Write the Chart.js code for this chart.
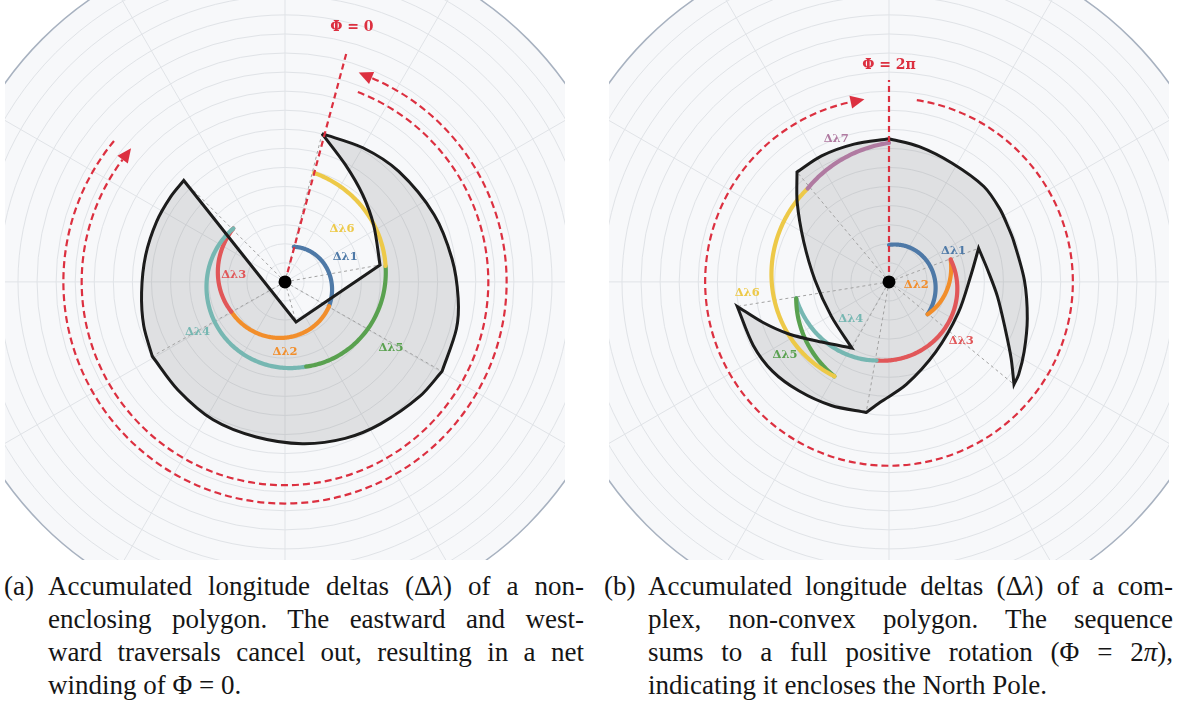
<!DOCTYPE html>
<html>
<head>
<meta charset="utf-8">
<script src="https://cdn.jsdelivr.net/npm/chart.js@4.4.1/dist/chart.umd.min.js"></script>
<style>
  html, body { margin: 0; padding: 0; background: #fff; }
  body { width: 1179px; height: 704px; position: relative; overflow: hidden; }
  .panel { position: absolute; top: 0; width: 560px; height: 560px; }
  #pa { left: 5px; }
  #pb { left: 609px; }
  .cap { position: absolute; top: 570px; font-family: "Liberation Serif", serif; font-size: 27px; line-height: 33px; color: #151515; }
  .cap .lbl { position: absolute; left: 0; top: 0; }
  .cap .body { position: absolute; top: 0; }
  .ln { text-align: justify; text-align-last: justify; height: 33px; overflow: visible; }
  .ln.last { text-align-last: left; }
</style>
</head>
<body>
<canvas id="pa" class="panel" width="560" height="560"></canvas>
<canvas id="pb" class="panel" width="560" height="560"></canvas>

<div class="cap" style="left:4px;width:580px">
  <div class="lbl">(a)</div>
  <div class="body" style="left:44px;width:536px">
    <div class="ln">Accumulated longitude deltas (Δ<i>λ</i>) of a non-</div>
    <div class="ln">enclosing polygon. The eastward and west-</div>
    <div class="ln">ward traversals cancel out, resulting in a net</div>
    <div class="ln last">winding of Φ = 0.</div>
  </div>
</div>
<div class="cap" style="left:604px;width:570px">
  <div class="lbl">(b)</div>
  <div class="body" style="left:44px;width:525px">
    <div class="ln">Accumulated longitude deltas (Δ<i>λ</i>) of a com-</div>
    <div class="ln">plex, non-convex polygon. The sequence</div>
    <div class="ln">sums to a full positive rotation (Φ = 2<i>π</i>),</div>
    <div class="ln last">indicating it encloses the North Pole.</div>
  </div>
</div>

<script>
// polar grid: colatitude rings every 5 deg up to 90, spokes every 30 deg
const ringStep = 5;
const ringMax = 90;
const spokeStep = 30;

// panel (a): non-enclosing polygon (lon = bearing from north, colat in degrees)
// vertices are listed twice so the smoothed outline keeps its corners
const aOutlineLon   = [14.0, 30.1, 45.8, 65.7, 82.1, 95.4, 105.4, 119.7, 119.7, 130.3, 146.1, 159.0, 173.9, 190.5, 207.5, 224.7, 240.7, 240.7, 252.6, 265.8, 280.8, 295.2, 306.8, 315.1, 315.1, 164.6, 164.6, 79.9, 79.9, 57.4, 41.8, 27.2, 14.0];
const aOutlineColat = [40.1, 40.7, 41.6, 42.9, 44.2, 45.6, 46.6, 47.4, 47.4, 46.4, 44.9, 44.0, 42.7, 41.4, 40.8, 39.9, 39.9, 39.9, 38.8, 37.7, 37.2, 37.2, 37.4, 37.6, 37.6, 10.9, 10.9, 25.3, 25.3, 27.6, 30.6, 34.6, 40.1];
const aVertexLon   = [14, 119.7, 240.7, 315.1, 164.6, 79.9];
const aVertexColat = [40.1, 47.4, 39.9, 37.6, 10.9, 25.3];
const aArcStart = 14;
const aDeltas = [105, 122, 75, -150, -85, -66];
const aArcRadii = [9.5, 13.2, 16.1, 19.5, 22.9, 26.7, 29.6];
const aLabels = ['Δλ1', 'Δλ2', 'Δλ3', 'Δλ4', 'Δλ5', 'Δλ6'];
const aLabelLon   = [67.3, 180, 278.1, 240.3, 121.9, 46.9];
const aLabelColat = [17.1, 18.3, 13.6, 26.4, 32.7, 20.5];
const aLoopRadius = [58.1, 53.3];
const aLoopFrom   = [309.5, 21];
const aLoopDelta  = [-286.5, 286];
const aPhi = { lon: 15, len: 63, labelLon: 14.7, labelColat: 69.1, text: 'Φ = 0' };

// panel (b): complex polygon around the pole
const bOutlineLon   = [0, 12.6, 27.8, 44.8, 56.7, 65.6, 71.9, 89.3, 104.8, 117.4, 125.6, 129.4, 129.4, 122.1, 112.1, 97.7, 83.4, 69.4, 69.4, 84.3, 114, 146.3, 170.4, 184.2, 189.9, 189.9, 205, 219.6, 232.4, 244.9, 260.8, 260.8, 252.1, 242.5, 228.2, 209.3, 209.3, 239.3, 271.3, 295.5, 311, 320.1, 320.1, 331.9, 345.8, 360];
const bOutlineColat = [37.6, 36.4, 35.3, 35.3, 34.8, 34.4, 34.4, 35.5, 37.5, 39.9, 41.8, 42.4, 42.4, 37.8, 32.9, 28.7, 26.1, 25.1, 25.1, 21.7, 19.9, 22.1, 27.3, 31.7, 34.8, 34.8, 35.8, 37.1, 38.5, 39.3, 40.3, 40.3, 34.7, 29.6, 23.7, 19.9, 19.9, 17.6, 19.4, 24.8, 31.9, 37.6, 37.6, 37.5, 37.3, 37.6];
const bVertexLon   = [129.4, 69.4, 189.9, 260.8, 209.3, 320.1];
const bVertexColat = [42.4, 25.1, 34.8, 40.3, 19.9, 37.6];
const bArcStart = 0;
const bDeltas = [130, -60, 119, 71, -50, 109, 41];
const bArcRadii = [9.7, 13.2, 17.2, 20.9, 24.7, 28.6, 32.5, 36.5];
const bLabels = ['Δλ1', 'Δλ2', 'Δλ3', 'Δλ4', 'Δλ5', 'Δλ6', 'Δλ7'];
const bLabelLon   = [64.3, 96.8, 129.4, 226, 235, 265.4, 339.8];
const bLabelColat = [18.8, 7.2, 24.5, 13.9, 33.3, 37.3, 40.1];
const bLoopRadius = [48.2];
const bLoopFrom   = [8.7];
const bLoopDelta  = [339.3];
const bPhi = { lon: 0, len: 53, labelLon: 0, labelColat: 56.8, text: 'Φ = 2π' };

const arcColors = ['#4e79a7', '#f28e2b', '#e15759', '#76b7b2', '#59a14f', '#edc948', '#b07aa1'];
const RED = '#dc3040';
const deg = Math.PI / 180;

function toXY(lon, colat) {
  return { x: colat * Math.sin(lon * deg), y: colat * Math.cos(lon * deg) };
}

function polarPlugin(p) {
  function px(chart, lon, colat) {
    const pt = toXY(lon, colat);
    return [chart.scales.x.getPixelForValue(pt.x), chart.scales.y.getPixelForValue(pt.y)];
  }
  function frame(chart) {
    const cx = chart.scales.x.getPixelForValue(0);
    const cy = chart.scales.y.getPixelForValue(0);
    const k = chart.scales.x.getPixelForValue(1) - cx;
    return { cx, cy, k };
  }
  return {
    id: 'polarGrid',
    beforeDatasetsDraw(chart) {
      const ctx = chart.ctx;
      const { cx, cy, k } = frame(chart);
      ctx.save();
      ctx.beginPath();
      ctx.arc(cx, cy, ringMax * k, 0, 2 * Math.PI);
      ctx.fillStyle = '#f7f8fa';
      ctx.fill();
      ctx.strokeStyle = '#e0e3e7';
      ctx.lineWidth = 1;
      for (let r = ringStep; r < ringMax; r += ringStep) {
        ctx.beginPath();
        ctx.arc(cx, cy, r * k, 0, 2 * Math.PI);
        ctx.stroke();
      }
      for (let a = 0; a < 360; a += spokeStep) {
        const [x2, y2] = px(chart, a, ringMax);
        ctx.beginPath();
        ctx.moveTo(cx, cy);
        ctx.lineTo(x2, y2);
        ctx.stroke();
      }
      ctx.beginPath();
      ctx.arc(cx, cy, ringMax * k, 0, 2 * Math.PI);
      ctx.strokeStyle = '#a8b2c0';
      ctx.lineWidth = 1.5;
      ctx.stroke();

      // polygon fill, following the same smoothed path as the outline dataset
      const meta = chart.getDatasetMeta(2);
      const line = meta.dataset;
      ctx.beginPath();
      if (line && typeof line.path === 'function') {
        line.updateControlPoints(chart.chartArea, 'x');
        line.path(ctx);
      } else {
        meta.data.forEach((pt, i) => (i ? ctx.lineTo(pt.x, pt.y) : ctx.moveTo(pt.x, pt.y)));
      }
      ctx.closePath();
      ctx.fillStyle = 'rgba(128,128,132,0.2)';
      ctx.fill();
      ctx.restore();
    },
    beforeDatasetDraw(chart, args) {
      if (args.index !== 2) return;
      // accumulated delta arcs, radius growing with each step
      const ctx = chart.ctx;
      ctx.save();
      ctx.lineWidth = 4.2;
      ctx.lineCap = 'round';
      let lon0 = p.arcStart;
      p.deltas.forEach((d, j) => {
        const r0 = p.arcRadii[j], r1 = p.arcRadii[j + 1];
        const n = Math.max(8, Math.ceil(Math.abs(d)));
        ctx.beginPath();
        for (let s = 0; s <= n; s++) {
          const t = s / n;
          const [x, y] = px(chart, lon0 + t * d, r0 + t * (r1 - r0));
          s ? ctx.lineTo(x, y) : ctx.moveTo(x, y);
        }
        ctx.strokeStyle = arcColors[j];
        ctx.stroke();
        lon0 += d;
      });
      ctx.restore();
    },
    afterDatasetsDraw(chart) {
      const ctx = chart.ctx;
      const { cx, cy, k } = frame(chart);
      ctx.save();
      ctx.strokeStyle = RED;
      ctx.fillStyle = RED;
      ctx.lineWidth = 2.2;
      p.loopRadius.forEach((r, i) => {
        const d = p.loopDelta[i];
        const s = (p.loopFrom[i] - 90) * deg;
        const e = (p.loopFrom[i] + d - 90) * deg;
        const rp = r * k;
        ctx.setLineDash([7, 4]);
        ctx.beginPath();
        ctx.arc(cx, cy, rp, s, e, d < 0);
        ctx.stroke();
        ctx.setLineDash([]);
        const dir = Math.sign(d);
        const bx = cx + rp * Math.cos(e), by = cy + rp * Math.sin(e);
        const tx = -Math.sin(e) * dir, ty = Math.cos(e) * dir;
        const nx = Math.cos(e), ny = Math.sin(e);
        const L = 14, W = 6.5;
        ctx.beginPath();
        ctx.moveTo(bx + tx * L, by + ty * L);
        ctx.lineTo(bx + nx * W, by + ny * W);
        ctx.lineTo(bx - nx * W, by - ny * W);
        ctx.closePath();
        ctx.fill();
      });
      ctx.textAlign = 'center';
      ctx.textBaseline = 'middle';
      ctx.font = 'bold 14px "DejaVu Serif"';
      const [fx, fy] = px(chart, p.phi.labelLon, p.phi.labelColat);
      ctx.fillText(p.phi.text, fx, fy);
      ctx.font = 'bold 11.5px "DejaVu Serif"';
      p.labels.forEach((t, i) => {
        const [lx, ly] = px(chart, p.labelLon[i], p.labelColat[i]);
        ctx.fillStyle = arcColors[i];
        ctx.fillText(t, lx, ly);
      });
      ctx.restore();
    }
  };
}

function makePanel(id, p, yMin, yMax) {
  const outline = p.outlineLon.map((lon, i) => toXY(lon, p.outlineColat[i]));
  const datasets = [
    { data: [{ x: 0, y: 0 }], pointRadius: 6.5, pointBackgroundColor: '#000', pointBorderWidth: 0, order: 0 },
    { data: [{ x: 0, y: 0 }, toXY(p.phi.lon, p.phi.len)], showLine: true, borderColor: RED, borderWidth: 2.2,
      borderDash: [6, 4], pointRadius: 0, order: 1 },
    { data: outline, showLine: true, borderColor: '#1c1c1c', borderWidth: 3, tension: 0.3, pointRadius: 0, order: 2 }
  ];
  p.vertexLon.forEach((lon, i) => {
    datasets.push({ data: [{ x: 0, y: 0 }, toXY(lon, p.vertexColat[i])], showLine: true, borderColor: '#a3a3a3',
      borderWidth: 1, borderDash: [3, 3], pointRadius: 0, order: 4 });
  });
  new Chart(document.getElementById(id), {
    type: 'scatter',
    data: { datasets },
    options: {
      responsive: false,
      animation: false,
      devicePixelRatio: 1,
      layout: { padding: 0 },
      plugins: { legend: { display: false }, tooltip: { enabled: false } },
      events: [],
      scales: {
        x: { type: 'linear', min: -71.7, max: 71.7, display: false },
        y: { type: 'linear', min: yMin, max: yMax, display: false }
      }
    },
    plugins: [polarPlugin(p)]
  });
}

makePanel('pa', {
  outlineLon: aOutlineLon, outlineColat: aOutlineColat, vertexLon: aVertexLon, vertexColat: aVertexColat,
  arcStart: aArcStart, deltas: aDeltas, arcRadii: aArcRadii, labels: aLabels, labelLon: aLabelLon,
  labelColat: aLabelColat, loopRadius: aLoopRadius, loopFrom: aLoopFrom, loopDelta: aLoopDelta, phi: aPhi
}, -71.3, 72.3);

makePanel('pb', {
  outlineLon: bOutlineLon, outlineColat: bOutlineColat, vertexLon: bVertexLon, vertexColat: bVertexColat,
  arcStart: bArcStart, deltas: bDeltas, arcRadii: bArcRadii, labels: bLabels, labelLon: bLabelLon,
  labelColat: bLabelColat, loopRadius: bLoopRadius, loopFrom: bLoopFrom, loopDelta: bLoopDelta, phi: bPhi
}, -71.3, 72.3);
</script>
</body>
</html>
